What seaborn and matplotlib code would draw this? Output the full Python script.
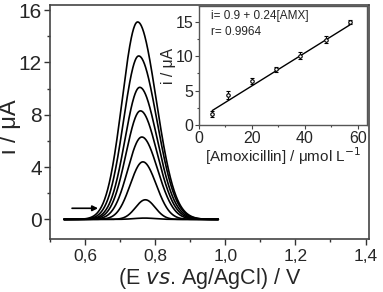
import numpy as np
import pandas as pd
import matplotlib
matplotlib.use("Agg")
import matplotlib.pyplot as plt
import seaborn as sns
from matplotlib.ticker import MultipleLocator, FuncFormatter

# ---- data ----
peak_heights = [0.1, 1.5, 4.4, 6.3, 8.3, 10.1, 12.5, 15.1]      # µA
peak_centers = [0.77, 0.772, 0.765, 0.762, 0.758, 0.756, 0.753, 0.750]  # V
sigma_left = [0.03, 0.028, 0.036, 0.040, 0.041, 0.042, 0.043, 0.044]
sigma_right = [0.03, 0.028, 0.038, 0.045, 0.048, 0.050, 0.052, 0.053]
e_start, e_end = 0.54, 0.98

conc = [5, 11, 20, 29, 38, 48, 57]                       # µmol/L
current = [1.6, 4.4, 6.4, 8.1, 10.1, 12.4, 15.0]          # µA
current_err = [0.45, 0.55, 0.5, 0.4, 0.5, 0.5, 0.3]
fit_intercept, fit_slope = 0.9, 0.24

sns.set_theme(style="ticks")
plt.rcParams['font.family'] = ['Liberation Sans', 'DejaVu Sans']

fig = plt.figure(figsize=(3.83, 2.92), dpi=100)
ax = fig.add_axes([0.1305, 0.1815, 0.833, 0.8015])

E = np.linspace(e_start, e_end, 400)
rows = []
for k, (h, c, sl, sr) in enumerate(zip(peak_heights, peak_centers, sigma_left, sigma_right)):
    s = np.where(E < c, sl, sr)
    rows.append(pd.DataFrame({"E": E, "i": h * np.exp(-0.5 * ((E - c) / s) ** 2), "curve": k}))
df = pd.concat(rows)
sns.lineplot(data=df, x="E", y="i", units="curve", estimator=None, color="black",
             lw=1.2, ax=ax, legend=False)

ax.set_xlim(0.5, 1.41)
ax.set_ylim(-1.5, 16.4)
ax.xaxis.set_major_locator(MultipleLocator(0.2))
ax.xaxis.set_minor_locator(MultipleLocator(0.1))
ax.yaxis.set_major_locator(MultipleLocator(4))
ax.yaxis.set_minor_locator(MultipleLocator(2))
ax.xaxis.set_major_formatter(FuncFormatter(lambda v, p: f"{v:.1f}".replace(".", ",")))
ax.tick_params(which="major", length=4, width=1, color="#333333")
ax.tick_params(which="minor", length=2.5, width=1, color="#333333")
ax.tick_params(axis="x", which="major", labelsize=12.5, pad=3)
ax.tick_params(axis="y", which="major", labelsize=15, pad=2)
for sp in ax.spines.values():
    sp.set_visible(True)
    sp.set_color("#444444")
    sp.set_linewidth(1.2)
ax.set_xlabel("(E $\\mathit{vs}$. Ag/AgCl) / V", fontsize=15.5)
ax.set_ylabel("i / μA", fontsize=17)
ax.xaxis.set_label_coords(0.5, -0.115)
ax.yaxis.set_label_coords(-0.09, 0.48)

ax.annotate("", xy=(0.645, 0.85), xytext=(0.555, 0.85),
            arrowprops=dict(arrowstyle="-|>", color="black", lw=1.2, mutation_scale=8))

# ---- inset ----
ins = fig.add_axes([0.5196, 0.572, 0.4385, 0.407])
ins.errorbar(conc, current, yerr=current_err, fmt="o", ms=2.5, color="black",
             mfc="white", mec="black", capsize=1.5, elinewidth=0.8, mew=0.8)
xf = np.array([conc[0], conc[-1]])
sns.lineplot(x=xf, y=fit_intercept + fit_slope * xf, color="black", lw=1, ax=ins)
ins.set_xlim(0, 63.4)
ins.set_ylim(0, 17.3)
ins.xaxis.set_major_locator(MultipleLocator(20))
ins.xaxis.set_minor_locator(MultipleLocator(10))
ins.yaxis.set_major_locator(MultipleLocator(5))
ins.yaxis.set_minor_locator(MultipleLocator(2.5))
ins.tick_params(which="major", length=3, width=0.8, labelsize=11.5, pad=1, color="#444444")
ins.tick_params(which="minor", length=1.5, width=0.8, color="#444444")
for sp in ins.spines.values():
    sp.set_visible(True)
    sp.set_color("#555555")
    sp.set_linewidth(1)
ins.set_xlabel("[Amoxicillin] / μmol L$^{-1}$", fontsize=11, labelpad=0)
ins.set_ylabel("i / μA", fontsize=11.3, labelpad=0)
ins.text(0.07, 0.92, "i= 0.9 + 0.24[AMX]", transform=ins.transAxes, fontsize=8.5, va="center")
ins.text(0.07, 0.78, "r= 0.9964", transform=ins.transAxes, fontsize=8.5, va="center")

fig.savefig("out.png", dpi=100)
